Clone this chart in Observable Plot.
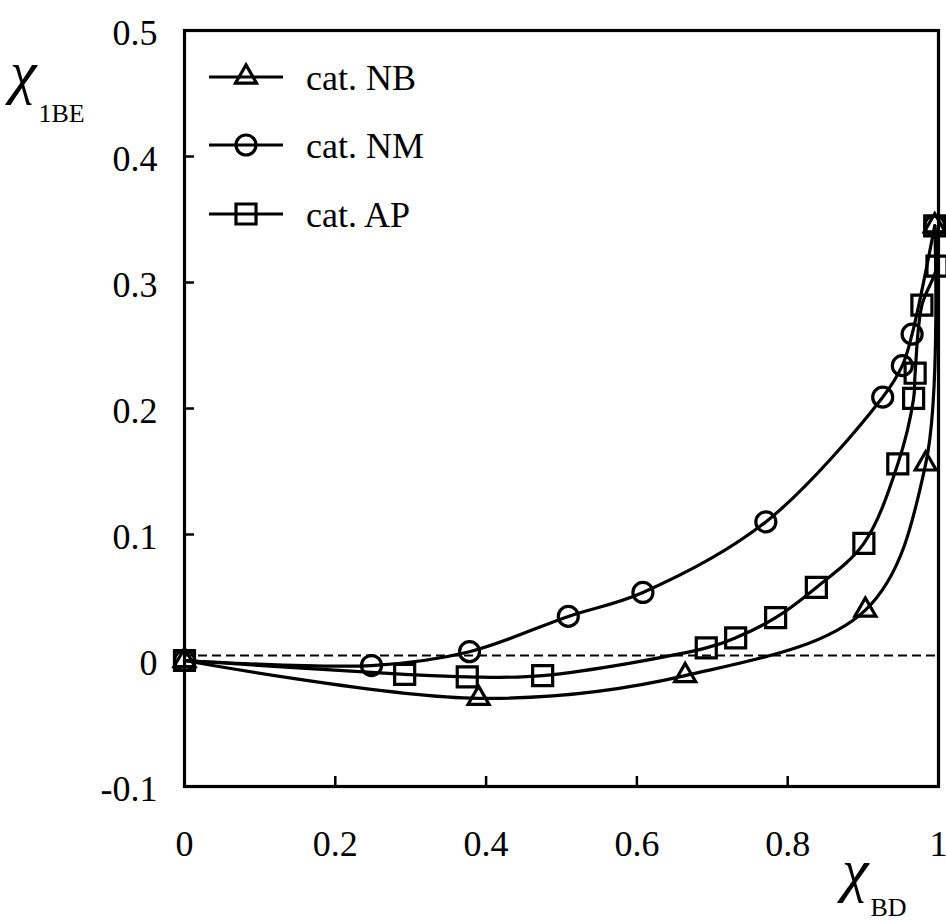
<!DOCTYPE html>
<html><head><meta charset="utf-8">
<script src="https://cdn.jsdelivr.net/npm/d3@7"></script>
<script src="https://cdn.jsdelivr.net/npm/@observablehq/plot@0.6"></script>
<style>body{margin:0;background:#fff}</style>
</head><body><div id="chart"></div>
<script>
// ---- data ----
const seriesNames = ["cat. NB", "cat. NM", "cat. AP"];
const seriesSymbols = ["triangle", "circle", "square"];

const xNB = [0, 0.390, 0.664, 0.903, 0.983, 0.995];
const yNB = [0, -0.030, -0.012, 0.040, 0.156, 0.345];

const xNM = [0, 0.248, 0.378, 0.509, 0.608, 0.771, 0.926, 0.952, 0.965, 0.995];
const yNM = [0, -0.004, 0.007, 0.035, 0.054, 0.110, 0.209, 0.234, 0.259, 0.345];

const xAP = [0, 0.292, 0.375, 0.475, 0.692, 0.731, 0.784, 0.838, 0.901, 0.946, 0.967, 0.969, 0.978, 0.998, 0.995];
const yAP = [0, -0.011, -0.013, -0.012, 0.010, 0.018, 0.034, 0.058, 0.093, 0.156, 0.208, 0.228, 0.282, 0.313, 0.345];

const xTicks = [0, 0.2, 0.4, 0.6, 0.8, 1];
const xTickLabels = ["0", "0.2", "0.4", "0.6", "0.8", "1"];
const yTicks = [-0.1, 0, 0.1, 0.2, 0.3, 0.4, 0.5];
const yTickLabels = ["-0.1", "0", "0.1", "0.2", "0.3", "0.4", "0.5"];
const zeroLine = [0.004];

// ---- build tables ----
const toRows = (xs, ys, name) => xs.map((x, i) => ({x, y: ys[i], series: name}));
const nb = toRows(xNB, yNB, seriesNames[0]);
const nm = toRows(xNM, yNM, seriesNames[1]);
const ap = toRows(xAP, yAP, seriesNames[2]);

const W = 946, H = 922;
const mL = 184, mR = 8, mT = 30, mB = 136;
const yDom = [-0.1, 0.5];
const pxPerY = (H - mT - mB) / (yDom[1] - yDom[0]);
const tickLen = 10 / pxPerY;
const xTickLen = 10 / (W - mL - mR);

const font = "'Liberation Serif', 'Times New Roman', serif";
const fs = 36;
const sym = {triangle: 7.8, circle: 10, square: 11.3};
const sw = 3.2;

const lineOpts = {x: "x", y: "y", curve: "catmull-rom", stroke: "black", strokeWidth: sw};
const dotOpts = (s) => ({x: "x", y: "y", symbol: s, r: sym[s], stroke: "black", strokeWidth: sw, fill: "none"});

const plot = Plot.plot({
  width: W, height: H,
  marginLeft: mL, marginRight: mR, marginTop: mT, marginBottom: mB,
  x: {domain: [0, 1], axis: null},
  y: {domain: yDom, axis: null},
  style: {fontFamily: font, background: "white", color: "black", overflow: "visible"},
  marks: [
    Plot.ruleY(zeroLine, {stroke: "black", strokeWidth: 2, strokeDasharray: "9,5"}),
    Plot.line(nb, lineOpts),
    Plot.line(nm, lineOpts),
    Plot.line(ap, lineOpts),
    Plot.dot(nb, dotOpts("triangle")),
    Plot.dot(nm, dotOpts("circle")),
    Plot.dot(ap, dotOpts("square")),
    Plot.ruleX(xTicks, {x: d => d, y1: yDom[0], y2: yDom[0] + tickLen, stroke: "black", strokeWidth: 2.5}),
    Plot.ruleY(yTicks, {y: d => d, x1: 0, x2: xTickLen, stroke: "black", strokeWidth: 2.5}),
    Plot.frame({stroke: "black", strokeWidth: 3.2}),
    Plot.text(xTicks, {x: d => d, y: yDom[0], text: (d, i) => xTickLabels[i], dy: 58, fontSize: fs, fill: "black"}),
    Plot.text(yTicks, {x: 0, y: d => d, text: (d, i) => yTickLabels[i], dx: -27, dy: 3, textAnchor: "end", fontSize: fs, fill: "black"})
  ]
});
document.getElementById("chart").appendChild(plot);

// ---- legend and axis titles ----
const svg = d3.select(plot);
const legY = [77, 145, 214];
const g = svg.append("g").attr("text-anchor", "start");
seriesNames.forEach((name, i) => {
  g.append("line").attr("x1", 209).attr("x2", 283).attr("y1", legY[i]).attr("y2", legY[i])
    .attr("stroke", "black").attr("stroke-width", sw);
  const s = seriesSymbols[i];
  const type = s === "triangle" ? d3.symbolTriangle : s === "circle" ? d3.symbolCircle : d3.symbolSquare;
  g.append("path").attr("d", d3.symbol().type(type).size(Math.PI * sym[s] * sym[s])())
    .attr("transform", `translate(246,${legY[i]})`)
    .attr("fill", "none").attr("stroke", "black").attr("stroke-width", sw);
  g.append("text").attr("x", 306).attr("y", legY[i]).attr("dy", "0.35em")
    .attr("font-family", font).attr("font-size", fs).attr("fill", "black").text(name);
});

const yt = svg.append("text").attr("text-anchor", "start").attr("font-family", font).attr("fill", "black")
  .attr("x", 10).attr("y", 92);
yt.append("tspan").attr("font-size", 60).attr("font-style", "italic").text("χ");
yt.append("tspan").attr("font-size", 26).attr("dy", 30).attr("dx", 2).text("1BE");

const xt = svg.append("text").attr("text-anchor", "start").attr("font-family", font).attr("fill", "black")
  .attr("x", 842).attr("y", 890);
xt.append("tspan").attr("font-size", 60).attr("font-style", "italic").text("χ");
xt.append("tspan").attr("font-size", 26).attr("dy", 26).attr("dx", 2).text("BD");
</script>
</body></html>
